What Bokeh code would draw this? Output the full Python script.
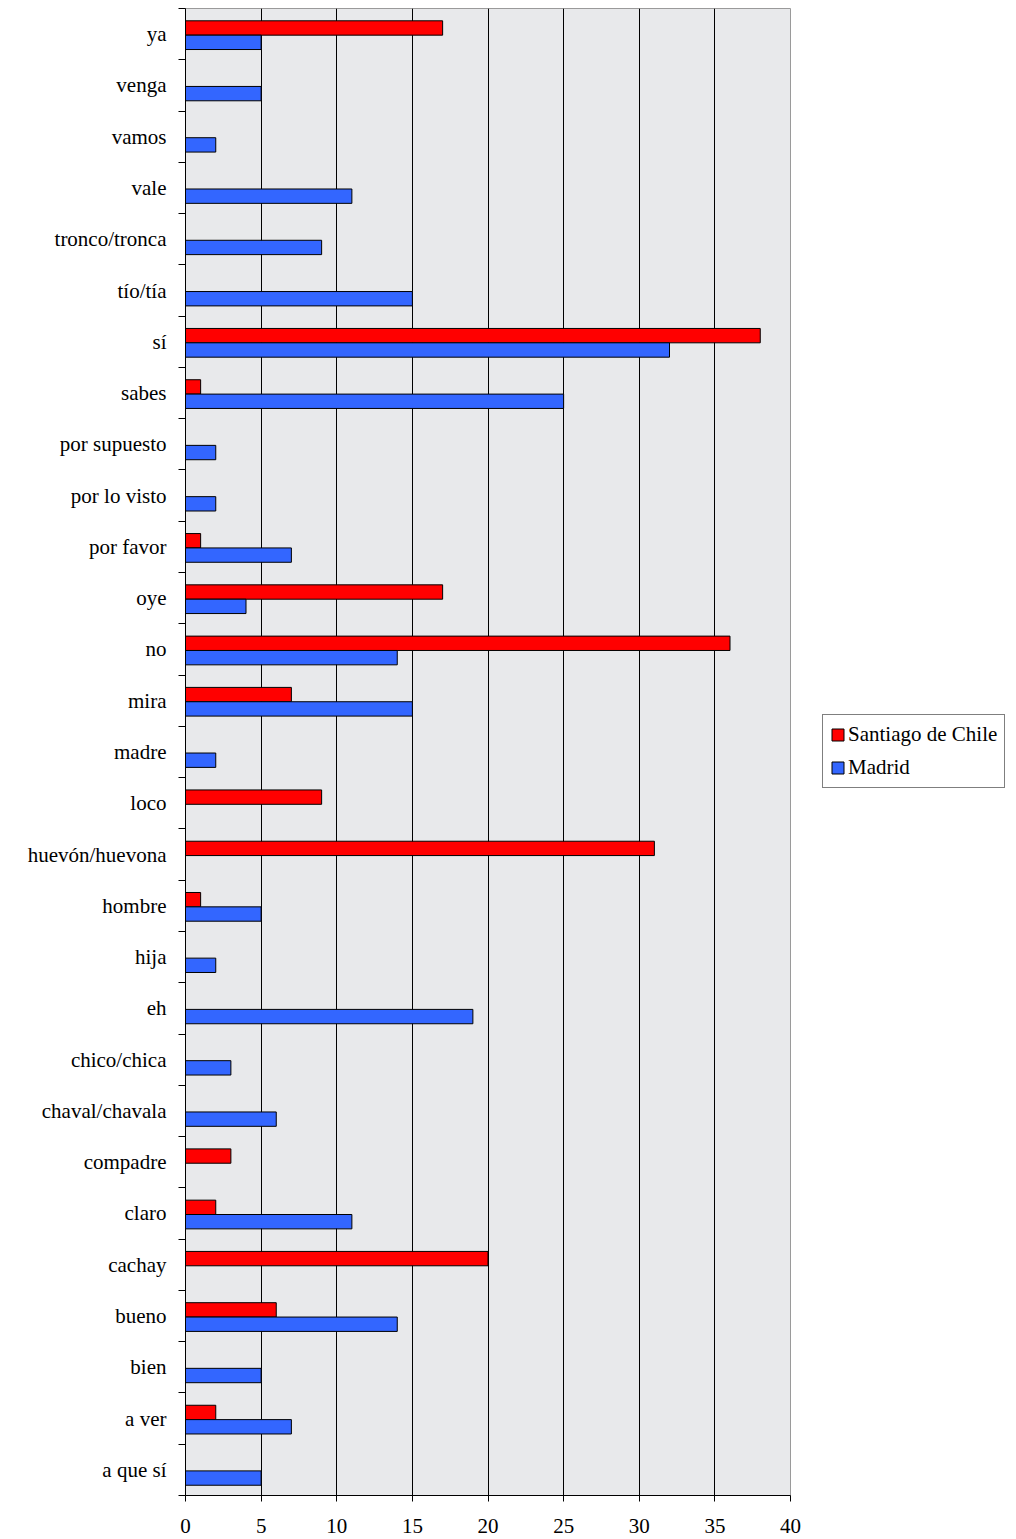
from bokeh.plotting import figure
from bokeh.layouts import row
from bokeh.models import (ColumnDataSource, Range1d, LinearAxis, FixedTicker, Legend, LegendItem)
from bokeh.transform import dodge
from bokeh.embed import file_html
from bokeh.resources import INLINE

# Categories listed bottom to top
categories = ["a que sí", "a ver", "bien", "bueno", "cachay", "claro", "compadre",
              "chaval/chavala", "chico/chica", "eh", "hija", "hombre", "huevón/huevona",
              "loco", "madre", "mira", "no", "oye", "por favor", "por lo visto",
              "por supuesto", "sabes", "sí", "tío/tía", "tronco/tronca", "vale",
              "vamos", "venga", "ya"]
santiago = [0, 2, 0, 6, 20, 2, 3, 0, 0, 0, 0, 1, 31, 9, 0, 7, 36, 17, 1, 0, 0, 1, 38,
            0, 0, 0, 0, 0, 17]
madrid = [5, 7, 5, 14, 0, 11, 0, 6, 3, 19, 2, 5, 0, 0, 2, 15, 14, 4, 7, 2, 2, 25, 32,
          15, 9, 11, 2, 5, 5]
series_names = ["Santiago de Chile", "Madrid"]
series_cols = ["santiago", "madrid"]
series_colors = ["#ff0000", "#3366ff"]
x_ticks = [0, 5, 10, 15, 20, 25, 30, 35, 40]

FONT = "Liberation Serif"
FS = "21px"
n = len(categories)
centers = [i + 0.5 for i in range(n)]
bounds = list(range(n + 1))

src = ColumnDataSource(dict(cat=categories, pos=centers, santiago=santiago, madrid=madrid))

p = figure(frame_width=605, frame_height=1487, y_range=Range1d(0, n),
           x_range=Range1d(x_ticks[0], x_ticks[-1]),
           output_backend="svg", toolbar_location=None, y_axis_location=None,
           min_border_left=185, min_border_right=12, min_border_top=8,
           min_border_bottom=44)

p.background_fill_color = "#e8e9eb"
p.border_fill_color = "white"
p.outline_line_color = "#9a9a9a"

p.hbar(y=dodge("pos", 0.12), left=0, right="santiago", height=0.28,
       fill_color=series_colors[0], line_color="black", line_width=1, source=src)
p.hbar(y=dodge("pos", -0.16), left=0, right="madrid", height=0.28,
       fill_color=series_colors[1], line_color="black", line_width=1, source=src)

# grid
p.xgrid.ticker = FixedTicker(ticks=x_ticks[1:-1])
p.xgrid.grid_line_color = "black"
p.xgrid.grid_line_width = 1
p.ygrid.grid_line_color = None

# x axis
xa = p.xaxis[0]
xa.ticker = FixedTicker(ticks=x_ticks)
xa.major_tick_out = 6
xa.major_tick_in = 0
xa.minor_tick_line_color = None
xa.axis_line_color = "black"
xa.major_tick_line_color = "black"
xa.major_label_text_font = FONT
xa.major_label_text_font_size = FS
xa.major_label_text_color = "black"
xa.major_label_standoff = 17

# y axis: ticks on category boundaries (no labels)
ya_ticks = LinearAxis(ticker=FixedTicker(ticks=bounds),
                      major_label_overrides={b: "" for b in bounds})
ya_ticks.major_tick_out = 7
ya_ticks.major_tick_in = 0
ya_ticks.minor_tick_line_color = None
ya_ticks.axis_line_color = "black"
ya_ticks.major_tick_line_color = "black"
ya_ticks.major_label_standoff = 0
p.add_layout(ya_ticks, "left")

# y axis: category labels at band centres
ya = LinearAxis(ticker=FixedTicker(ticks=centers),
                major_label_overrides={c: lab for c, lab in zip(centers, categories)})
ya.axis_line_color = None
ya.major_tick_line_color = None
ya.minor_tick_line_color = None
ya.major_label_text_font = FONT
ya.major_label_text_font_size = FS
ya.major_label_text_color = "black"
ya.major_label_standoff = 6
p.add_layout(ya, "left")

# Legend panel (separate figure to the right of the chart); its bars lie outside its view
p2 = figure(width=214, height=1539, x_range=Range1d(-2, -1), y_range=Range1d(0, n),
            output_backend="svg", toolbar_location=None,
            x_axis_location=None, y_axis_location=None,
            min_border_left=0, min_border_right=0, min_border_top=0, min_border_bottom=0)
p2.outline_line_color = None
p2.background_fill_color = "white"
p2.border_fill_color = "white"
p2.grid.visible = False

leg_renderers = [p2.hbar(y="pos", left=0, right=col, height=0.28, fill_color=c,
                         line_color="black", line_width=1, source=src)
                 for col, c in zip(series_cols, series_colors)]

legend = Legend(items=[LegendItem(label=name, renderers=[r])
                       for name, r in zip(series_names, leg_renderers)],
                location=(20, 707))
legend.label_text_font = FONT
legend.label_text_font_size = FS
legend.label_text_color = "black"
legend.border_line_color = "black"
legend.border_line_width = 1
legend.background_fill_color = "white"
legend.background_fill_alpha = 1
legend.glyph_width = 15
legend.glyph_height = 15
legend.label_standoff = 3
legend.padding = 7
legend.spacing = 8
legend.margin = 0
p2.add_layout(legend)

layout = row(p, p2, spacing=0)
open("out.html", "w").write(file_html(layout, INLINE))
